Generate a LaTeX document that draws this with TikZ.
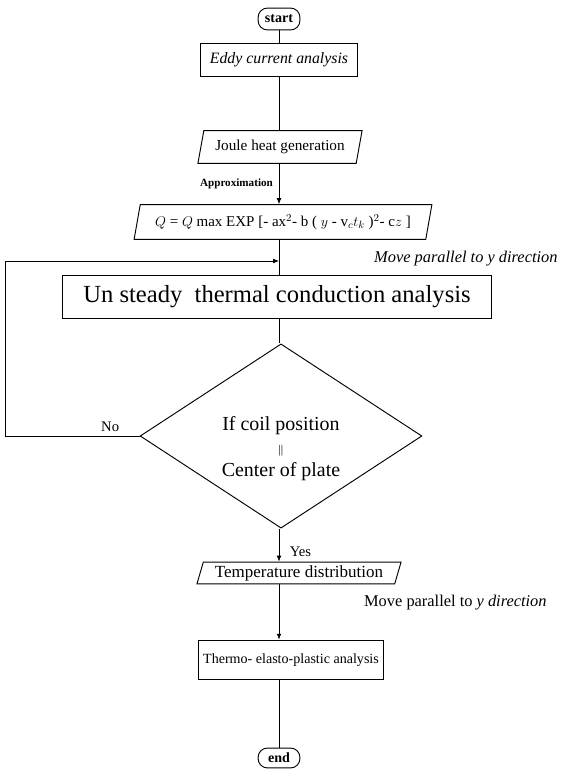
\documentclass[tikz,border=0pt]{standalone}
\usepackage{fontspec}
\setmainfont{Liberation Serif}
\usetikzlibrary{arrows.meta,shapes.geometric}

\begin{document}
\begin{tikzpicture}[x=0.03cm, y=-0.03cm, >={Latex[length=5pt,width=4pt]},
  default/.style={draw=black, thick, fill=white},
  process/.style={default, rectangle, inner sep=0pt},
  io/.style={default, trapezium, trapezium left angle=70, trapezium right angle=110,
    trapezium stretches=true, inner sep=0pt},
  terminal/.style={default, rounded corners=8pt, inner sep=0pt, font=\fontsize{12}{14}\selectfont\bfseries},
  decision/.style={default, diamond, aspect=1.55, inner sep=0pt},
  flow/.style={draw=black, semithick},
  lbl/.style={font=\fontsize{13}{15}\selectfont}]
\useasboundingbox (0,0) rectangle (570,778);
\node[terminal, minimum width=42*0.85pt, minimum height=22*0.85pt] (start) at (279,19) {start};
\node[process, minimum width=157*0.85pt, minimum height=33*0.85pt, font=\fontsize{13.5}{16}\selectfont\itshape] (eddy) at (279,60) {Eddy current analysis};
\node[io, minimum width=165*0.85pt, minimum height=33*0.85pt, font=\fontsize{13}{16}\selectfont] (joule) at (280,147) {Joule heat generation};
\node[io, minimum width=300*0.85pt, minimum height=35*0.85pt, font=\fontsize{12.8}{15}\selectfont] (heat) at (283,222) {$Q$ = $Q$ max EXP [- ax$^2$- b ( $y$ - v$_c$$t_k$ )$^2$- c$z$ ]};
\node[process, minimum width=430*0.85pt, minimum height=43*0.85pt, font=\fontsize{21}{24}\selectfont] (unsteady) at (277,297) {Un steady\ \ thermal conduction analysis};
\node[decision, minimum width=283*0.85pt, minimum height=185*0.85pt, font=\fontsize{17}{20}\selectfont] (check) at (281,436)
  {\raisebox{-15pt}[0pt][0pt]{\begin{tabular}{@{}c@{}}If coil position\\{\fontsize{10}{10}\selectfont ||}\\[-1pt]Center of plate\end{tabular}}};
\node[io, minimum width=205*0.85pt, minimum height=22*0.85pt, font=\fontsize{14.5}{17}\selectfont] (temp) at (299,573) {Temperature distribution};
\node[process, minimum width=185*0.85pt, minimum height=40*0.85pt, font=\fontsize{12}{15}\selectfont] (thermo) at (291,660) {Thermo- elasto-plastic analysis};
\node[terminal, minimum width=42*0.85pt, minimum height=20*0.85pt] (end) at (279,758) {end};
% labels
\node[lbl, font=\fontsize{9.5}{11}\selectfont\bfseries, anchor=east] (approx) at (277,184) {Approximation};
\node[lbl, font=\fontsize{14}{16}\selectfont\itshape, anchor=west] (move1) at (370,259) {Move parallel to y direction};
\node[lbl, font=\fontsize{14}{16}\selectfont, anchor=west] (move2) at (360,603) {Move parallel to \textit{y direction}};
\node[lbl, font=\fontsize{12.5}{14}\selectfont, anchor=south east] (no) at ([xshift=-14pt]check.west) {No};
\node[lbl, font=\fontsize{12.5}{14}\selectfont, anchor=north west] (yes) at ([xshift=4pt,yshift=-12pt]check.south) {Yes};
\coordinate (join) at (279,261);
\coordinate (loopcorner) at (5,0);
% connectors
\draw[flow] (start) -- (eddy);
\draw[flow] (eddy) -- (joule.north -| eddy);
\draw[flow, ->] (joule.south -| eddy) -- (heat.north -| eddy);
\draw[flow] (heat.south -| eddy) -- (unsteady.north -| eddy);
\draw[flow] (unsteady.south -| eddy) -- (check.north -| eddy);
\draw[flow, ->] (check.south -| eddy) -- (temp.north -| eddy);
\draw[flow, ->] (temp.south -| eddy) -- (thermo.north -| eddy);
\draw[flow] (thermo.south -| eddy) -- (end);
\draw[flow, ->] (check.west) -- (loopcorner |- check.west) -- (loopcorner |- join) -- (join);
\end{tikzpicture}
\end{document}
